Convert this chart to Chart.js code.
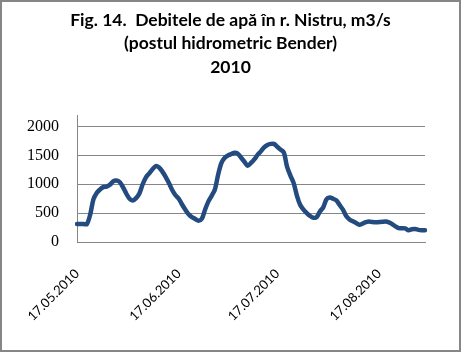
<!DOCTYPE html>
<html>
<head>
<meta charset="utf-8">
<script src="https://cdn.jsdelivr.net/npm/chart.js@4/dist/chart.umd.min.js"></script>
<style>
  html, body { margin: 0; padding: 0; background: #fff; }
  #cadru {
    width: 461px;
    height: 352px;
    box-sizing: border-box;
    border: 2px solid #868686;
  }
  #grafic { display: block; }
</style>
</head>
<body>
<div id="cadru">
  <canvas id="grafic" width="457" height="348"></canvas>
</div>
<script>
// debitele zilnice, m3/s, 17.05.2010 - 31.08.2010
const debite = [
  310, 310, 310, 310, 470, 740, 850, 910, 950, 960,
  990, 1050, 1065, 1040, 950, 840, 750, 720, 760, 840,
  1000, 1120, 1190, 1260, 1315, 1290, 1220, 1130, 1020, 900,
  810, 750, 650, 560, 480, 430, 400, 370, 400, 560,
  700, 800, 910, 1170, 1370, 1460, 1500, 1525, 1545, 1530,
  1460, 1390, 1320, 1370, 1430, 1510, 1570, 1640, 1680, 1700,
  1700, 1650, 1600, 1550, 1300, 1150, 1020, 800, 640, 560,
  500, 450, 420, 430, 530, 600, 740, 770, 750, 720,
  640, 560, 450, 390, 360, 330, 300, 320, 345, 355,
  345, 340, 345, 350, 355, 340, 310, 270, 240, 240,
  235, 205, 220, 225, 210, 205, 204
];

// etichetele afisate pe axe
const etichete = ["17.05.2010", "17.06.2010", "17.07.2010", "17.08.2010"];
const valoriY = [0, 500, 1000, 1500, 2000];
const titlu = ["Fig. 14.  Debitele de apă în r. Nistru, m3/s", "(postul hidrometric Bender)", "2010"];

// zilele (categoriile) incepand cu 17.05.2010
const zile = [];
const start = new Date(2010, 4, 17);
for (let i = 0; i < debite.length; i++) {
  const d = new Date(start.getFullYear(), start.getMonth(), start.getDate() + i);
  const zz = String(d.getDate()).padStart(2, "0");
  const ll = String(d.getMonth() + 1).padStart(2, "0");
  zile.push(zz + "." + ll + "." + d.getFullYear());
}

const ctx = document.getElementById("grafic").getContext("2d");
const grafic = new Chart(ctx, {
  type: "line",
  data: {
    labels: zile,
    datasets: [
      {
        data: debite,
        borderColor: "rgb(36, 75, 128)",
        borderWidth: 4.5,
        borderJoinStyle: "round",
        borderCapStyle: "round",
        pointRadius: 0,
        tension: 0.3,
        fill: false,
      },
    ],
  },
  options: {
    responsive: false,
    animation: false,
    devicePixelRatio: 1,
    layout: { padding: 0 },
    scales: {
      x: {
        offset: false,
        grid: { display: false },
        border: { display: true, color: "#868686", width: 1 },
        ticks: {
          autoSkip: false,
          minRotation: 45,
          maxRotation: 45,
          padding: 16,
          color: "#000",
          font: { family: "Lato", size: 13 },
          callback: function (value) {
            const lbl = this.getLabelForValue(value);
            return etichete.includes(lbl) ? lbl : "";
          },
        },
        afterFit: function (scale) {
          scale.height = 108;
        },
      },
      y: {
        min: 0,
        max: 2200,
        grid: { color: "#868686", lineWidth: 1, drawTicks: false },
        border: { display: true, color: "#868686", width: 1 },
        ticks: {
          autoSkip: false,
          padding: 18,
          color: "#000",
          font: { family: "Liberation Serif", size: 16 },
          callback: (v) => String(v),
        },
        afterBuildTicks: function (scale) {
          scale.ticks = valoriY.map((v) => ({ value: v }));
        },
        afterFit: function (scale) {
          scale.width = 75;
        },
      },
      // spatiu gol in dreapta zonei graficului
      dreapta: {
        type: "linear",
        position: "right",
        display: true,
        grid: { display: false },
        border: { display: false },
        ticks: { display: false },
        afterFit: function (scale) {
          scale.width = 34;
        },
      },
    },
    plugins: {
      legend: { display: false },
      tooltip: { enabled: false },
      title: {
        display: true,
        text: titlu,
        color: "#000",
        font: { family: "Lato", size: 17.5, weight: "bold", lineHeight: 1.343 },
        padding: { top: 6.25, bottom: 36.25 },
      },
    },
  },
});
</script>
</body>
</html>
